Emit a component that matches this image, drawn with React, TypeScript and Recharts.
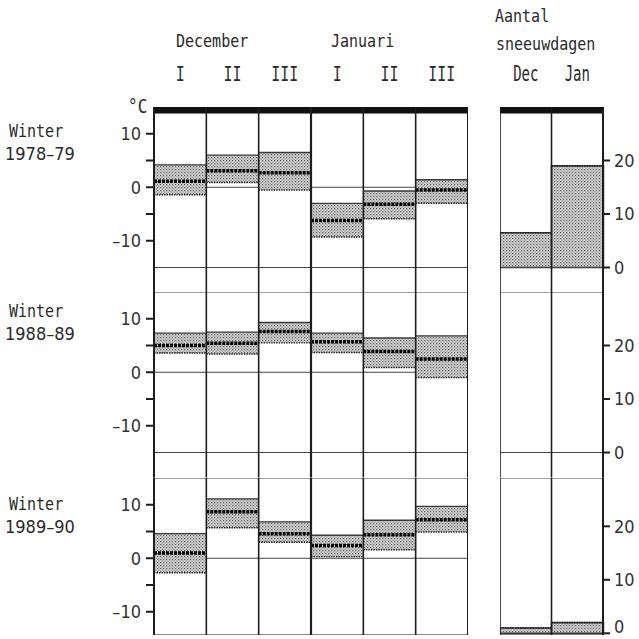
import { ComposedChart, Bar, XAxis, YAxis, CartesianGrid, ReferenceLine, ReferenceArea } from "recharts";

// dekads (10-day periods) of December and January
const periods = ["Dec I", "Dec II", "Dec III", "Jan I", "Jan II", "Jan III"];
const snowMonths = ["Dec", "Jan"];
const tempTicks = [-10, -5, 0, 5, 10];
const snowTicks = [0, 10, 20];

// winter 1978-79 (°C)
const lows7879 = [-1.4, 0.9, -0.5, -9.3, -5.9, -3.0];
const means7879 = [1.1, 3.1, 2.7, -6.2, -3.2, -0.5];
const highs7879 = [4.2, 6.0, 6.5, -3.0, -0.7, 1.4];
const snow7879 = [6.5, 19];

// winter 1988-89
const lows8889 = [3.6, 3.4, 5.5, 3.7, 0.9, -1.0];
const means8889 = [5.0, 5.4, 7.6, 5.7, 3.9, 2.5];
const highs8889 = [7.3, 7.5, 9.3, 7.3, 6.4, 6.8];
const snow8889 = [0, 0];

// winter 1989-90
const lows8990 = [-2.7, 5.7, 3.0, 0.3, 1.6, 4.9];
const means8990 = [1.0, 8.7, 4.6, 2.4, 4.4, 7.2];
const highs8990 = [4.6, 11.1, 6.8, 4.3, 7.1, 9.7];
const snow8990 = [1, 2];

const PX = 5.35; // pixels per degree
const GAP = 25 / PX;
const HEAD = 52;

const NUM_FONT = "'Liberation Sans Narrow', 'DejaVu Sans Condensed', Roboto, sans-serif";
const MONO_FONT = "'DejaVu Sans Mono', monospace";
const TYPE_FONT = "'Liberation Mono', monospace";
const INK = "#1e1e1e";

const panels = [
  { year: "1978–79", lows: lows7879, means: means7879, highs: highs7879, snow: snow7879, top: 106.5, labelTop: 123 },
  { year: "1988–89", lows: lows8889, means: means8889, highs: highs8889, snow: snow8889, top: 292, labelTop: 303 },
  { year: "1989–90", lows: lows8990, means: means8990, highs: highs8990, snow: snow8990, top: 477.5, labelTop: 496 },
];

function box(p: any) {
  const top = Math.min(p.y, p.y + p.height);
  const h = Math.abs(p.height);
  return { x: p.x, w: p.width, top, bottom: top + h, h };
}

const LowerHalf = (p: any) => {
  const b = box(p);
  if (!b.h) return null;
  return (
    <g>
      <rect x={b.x} y={b.top} width={b.w} height={b.h} fill="url(#stipple)" />
      <line x1={b.x} x2={b.x + b.w} y1={b.bottom} y2={b.bottom} stroke="#222" strokeWidth={1.4} strokeDasharray="1.5 1" />
    </g>
  );
};

const UpperHalf = (p: any) => {
  const b = box(p);
  return (
    <g>
      <rect x={b.x} y={b.top} width={b.w} height={b.h} fill="url(#stipple)" />
      <line x1={b.x} x2={b.x + b.w} y1={b.top} y2={b.top} stroke="#3a3a3a" strokeWidth={1.3} />
      <line x1={b.x} x2={b.x + b.w} y1={b.bottom} y2={b.bottom} stroke="#000" strokeWidth={3.5} strokeDasharray="3 1" />
    </g>
  );
};

const SnowBar = (p: any) => {
  const b = box(p);
  if (b.h < 0.5) return null;
  return (
    <g>
      <rect x={b.x} y={b.top} width={b.w} height={b.h} fill="url(#stipple)" stroke="#333" strokeWidth={1.5} />
      <line x1={b.x} x2={b.x + b.w} y1={b.top} y2={b.top} stroke="#222" strokeWidth={1.6} strokeDasharray="1.5 1" />
    </g>
  );
};

const HeadTick = ({ x, y, payload, numeral }: any) => {
  const text = numeral ? String(payload.value).split(" ")[1] : payload.value;
  return (
    <g transform={`translate(${x},${y})`}>
      <text textAnchor="middle" y={-16} fontFamily={numeral ? TYPE_FONT : MONO_FONT} fontSize={numeral ? 15 : 14} fill="#2a2a2a" transform="scale(1,1.5)">
        {text}
      </text>
    </g>
  );
};

// right-hand axis label, kept inside the picture at the bottom edge
const DaysTick = ({ x, y, payload, maxY }: any) => (
  <text x={x} y={Math.min(y, maxY)} dy="0.355em" textAnchor="start" fontFamily={NUM_FONT} fontSize={18} fill="#333">
    {payload.value}
  </text>
);

// cell dividers: start of every band, plus the end of the last one
function dividers(cats: string[], axisId: string, heavy: string) {
  return [
    ...cats.map((c) => (
      <ReferenceLine key={c} xAxisId={axisId} x={c} position="start" stroke={INK} strokeWidth={c === heavy ? 2.2 : 1.6} />
    )),
    <ReferenceLine key="end" xAxisId={axisId} x={cats[cats.length - 1]} position="end" stroke={INK} strokeWidth={2} />,
  ];
}

function TempChart({ lows, means, highs, top, index }: any) {
  const first = index === 0;
  const last = index === panels.length - 1;
  const yMin = last ? -14.53 : -15 - GAP;
  const plotH = (15 - yMin) * PX;
  const head = first ? HEAD : 0;
  const rows = periods.map((p, i) => ({ period: p, lower: [lows[i], means[i]], upper: [means[i], highs[i]] }));
  return (
    <div style={{ position: "absolute", left: 94, top: top - head }}>
      <ComposedChart width={374} height={plotH + head} data={rows} margin={{ top: 0, right: 0, bottom: 0, left: 0 }} barCategoryGap={0} barGap={0}>
        <XAxis xAxisId="lo" dataKey="period" orientation="top" hide={!first} height={head} axisLine={false} tickLine={false} tickSize={0} interval={0} tick={<HeadTick numeral />} />
        <XAxis xAxisId="up" dataKey="period" hide />
        <YAxis
          domain={[yMin, 15]}
          ticks={tempTicks}
          allowDataOverflow
          width={60}
          tickSize={8}
          tickMargin={5}
          interval={0}
          axisLine={{ stroke: INK, strokeWidth: 2 }}
          tickLine={{ stroke: INK, strokeWidth: 2 }}
          tick={{ fontFamily: NUM_FONT, fontSize: 18, fill: "#333" }}
          tickFormatter={(v: number) => (v === 0 ? "0" : Math.abs(v) === 5 ? "" : v < 0 ? `–${-v}` : String(v))}
        />
        <CartesianGrid xAxisId="lo" vertical={false} horizontalValues={[0]} stroke="#444" strokeWidth={1.2} />
        {!last && <ReferenceLine xAxisId="lo" y={-15} stroke="#444" strokeWidth={1.2} />}
        {!first && <ReferenceLine xAxisId="lo" y={15} stroke="#444" strokeWidth={1.2} />}
        {first && <ReferenceArea xAxisId="lo" y1={13.8} y2={15} fill="#111" fillOpacity={1} stroke="none" />}
        {last && <ReferenceLine xAxisId="lo" y={yMin} stroke="#111" strokeWidth={3} />}
        <Bar xAxisId="lo" dataKey="lower" shape={LowerHalf} isAnimationActive={false} />
        <Bar xAxisId="up" dataKey="upper" shape={UpperHalf} isAnimationActive={false} />
        {dividers(periods, "lo", "Jan I")}
      </ComposedChart>
    </div>
  );
}

function SnowChart({ snow, top, index }: any) {
  const first = index === 0;
  const last = index === panels.length - 1;
  const domain = last ? [-0.5, 29.03] : [-GAP, 30];
  const plotH = (domain[1] - domain[0]) * PX;
  const head = first ? HEAD : 0;
  const rows = snowMonths.map((m, i) => ({ month: m, days: snow[i] }));
  return (
    <div style={{ position: "absolute", left: 500, top: top - head }}>
      <ComposedChart width={143} height={plotH + head} data={rows} margin={{ top: 0, right: 0, bottom: 0, left: 0 }} barCategoryGap={0}>
        <XAxis xAxisId="m" dataKey="month" orientation="top" hide={!first} height={head} axisLine={false} tickLine={false} tickSize={0} interval={0} tick={<HeadTick />} />
        <YAxis
          orientation="right"
          domain={domain}
          ticks={snowTicks}
          allowDataOverflow
          width={40}
          tickSize={7}
          tickMargin={4}
          interval={0}
          axisLine={{ stroke: INK, strokeWidth: 2 }}
          tickLine={{ stroke: INK, strokeWidth: 2 }}
          tick={<DaysTick maxY={plotH + head - 9} />}
        />
        {!last && <ReferenceLine xAxisId="m" y={0} stroke="#444" strokeWidth={1.2} />}
        {!first && <ReferenceLine xAxisId="m" y={domain[1]} stroke="#444" strokeWidth={1.2} />}
        {first && <ReferenceArea xAxisId="m" y1={28.8} y2={30} fill="#111" fillOpacity={1} stroke="none" />}
        {last && <ReferenceLine xAxisId="m" y={domain[0]} stroke="#111" strokeWidth={3} />}
        <Bar xAxisId="m" dataKey="days" shape={SnowBar} isAnimationActive={false} />
        {dividers(snowMonths, "m", "")}
      </ComposedChart>
    </div>
  );
}

const monoText = (extra: any) => ({
  position: "absolute" as const,
  fontFamily: MONO_FONT,
  fontSize: 15,
  lineHeight: "15px",
  color: "#2a2a2a",
  whiteSpace: "nowrap" as const,
  transform: "scaleY(1.2)",
  transformOrigin: "top left",
  ...extra,
});

export default function App() {
  return (
    <div style={{ position: "absolute", left: 0, top: 0, width: 639, height: 639, background: "#fff", overflow: "hidden" }}>
      <svg width={0} height={0} style={{ position: "absolute" }}>
        <defs>
          <pattern id="stipple" width={3} height={3} patternUnits="userSpaceOnUse">
            <rect width={3} height={3} fill="#d2d2d2" />
            <rect x={0} y={0} width={1.2} height={1.2} fill="#5f5f5f" />
            <rect x={1.5} y={1.5} width={1.2} height={1.2} fill="#8c8c8c" />
          </pattern>
        </defs>
      </svg>

      <div style={monoText({ left: 176, top: 33 })}>December</div>
      <div style={monoText({ left: 331, top: 33 })}>Januari</div>
      <div style={monoText({ left: 495, top: 8 })}>Aantal</div>
      <div style={monoText({ left: 496, top: 36 })}>sneeuwdagen</div>
      <div style={monoText({ left: 128, top: 97, fontSize: 16 })}>°C</div>

      {panels.map((p, i) => (
        <div key={p.year}>
          <div style={monoText({ left: 9, top: p.labelTop })}>Winter</div>
          <div style={{ position: "absolute", left: 5, top: p.labelTop + 22, fontFamily: NUM_FONT, fontSize: 18, lineHeight: "18px", color: "#2a2a2a", whiteSpace: "nowrap" }}>{p.year}</div>
          <TempChart lows={p.lows} means={p.means} highs={p.highs} top={p.top} index={i} />
          <SnowChart snow={p.snow} top={p.top} index={i} />
        </div>
      ))}
    </div>
  );
}
